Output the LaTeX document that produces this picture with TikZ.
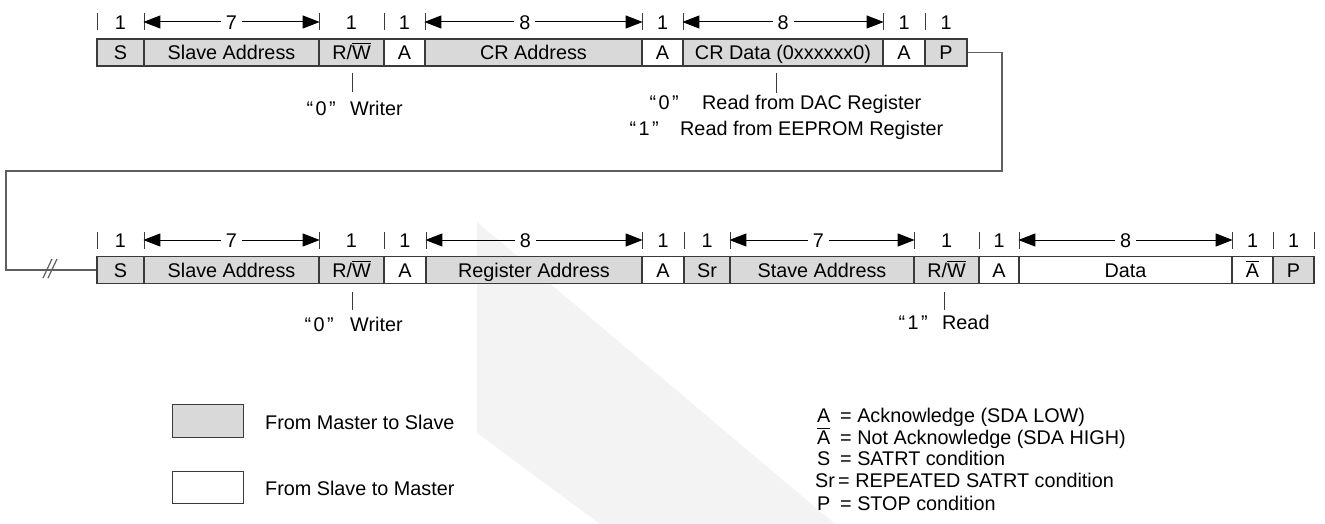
\documentclass[tikz,border=0pt]{standalone}
\usepackage{fontspec}
\setmainfont{Liberation Sans}
\usetikzlibrary{arrows.meta}
\definecolor{fillg}{HTML}{D9D9D9}
\definecolor{edgec}{HTML}{3A3A3A}
\definecolor{connc}{HTML}{5E5E5E}
\definecolor{wmc}{HTML}{F3F3F3}
\newcommand{\qq}[2]{\makebox[#2]{“\kern2.5pt#1\kern2.5pt”}}
\newcommand{\myovl}[1]{\leavevmode\setbox0=\hbox{#1}\rlap{\raisebox{\dimexpr\ht0+1.6pt\relax}{\rule{\wd0}{1pt}}}\box0}
\newcommand{\fld}[6]{\node[#5, minimum width={#3pt-#2pt}] (#1) at ({(#2+#3)/2},#4) {#6};}
\begin{document}
\begin{tikzpicture}[x=1pt,y=-1pt,
  every node/.style={font=\fontsize{19.8}{23}\selectfont},
  txt/.style={inner sep=0pt, text height=14.2pt, text depth=0pt},
  fldbox/.style={draw=edgec, line width=1.3pt, inner sep=0pt, minimum height=27pt, text height=14.2pt, text depth=0pt},
  gf/.style={fldbox, fill=fillg},
  wf/.style={fldbox, fill=white},
  tickln/.style={draw=edgec, line width=1pt},
  dimarr/.style={draw=black, line width=1pt, {Triangle[length=17pt,width=13pt]}-{Triangle[length=17pt,width=13pt]}},
  lab/.style={txt, fill=white, inner xsep=5pt},
  connln/.style={draw=connc, line width=1.6pt}]
\useasboundingbox (0,0) rectangle (1325,524);
% watermark
\fill[wmc] (477,222) -- (835,524) -- (600,524) -- (477,433) -- cycle;

\coordinate (h1) at (0,22);
\coordinate (h2) at (0,240);

% ---------- Row 1 ----------
\fld{s1}{97}{144}{52.5}{gf}{S}
\fld{sa1}{144}{319}{52.5}{gf}{Slave Address}
\fld{rw1}{319}{384}{52.5}{gf}{R/\myovl{W}}
\fld{a1}{384}{425}{52.5}{wf}{A}
\fld{cra}{425}{642}{52.5}{gf}{CR Address}
\fld{a2}{642}{683}{52.5}{wf}{A}
\fld{crd}{683}{883}{52.5}{gf}{CR Data (0xxxxxx0)}
\fld{a3}{883}{925}{52.5}{wf}{A}
\fld{p1}{925}{967}{52.5}{gf}{P}

\foreach \x in {97,144,319,384,425,642,683,883,925}
  \draw[tickln] (\x,13.5) -- (\x,30.5);
\foreach \n/\m in {s1/o1,rw1/o2,a1/o3,a2/o4,a3/o5,p1/o6}
  \node[txt] (\m) at (\n |- h1) {1};
\draw[dimarr] (sa1.north west |- h1) -- node[lab] (d7a) {7} (sa1.north east |- h1);
\draw[dimarr] (cra.north west |- h1) -- node[lab, pos=0.46] (d8a) {8} (cra.north east |- h1);
\draw[dimarr] (crd.north west |- h1) -- node[lab] (d8b) {8} (crd.north east |- h1);

\draw[tickln] (352,73) -- (352,92);
\node[txt, anchor=west] (w1) at (305,108) {\qq{0}{32pt}\hspace{13pt}Writer};
\draw[tickln] (776,73) -- (776,93);
\node[txt, anchor=west] (r1) at (650,102) {\qq{0}{28pt}\hspace{24pt}Read from DAC Register};
\node[txt, anchor=west] (r2) at (630,128) {\qq{1}{28pt}\hspace{22pt}Read from EEPROM Register};

% ---------- Row 2 ----------
\fld{s2}{97}{144}{270}{gf}{S}
\fld{sa2}{144}{319}{270}{gf}{Slave Address}
\fld{rw2}{319}{384}{270}{gf}{R/\myovl{W}}
\fld{a4}{384}{426}{270}{wf}{A}
\fld{ra}{426}{642}{270}{gf}{Register Address}
\fld{a5}{642}{684}{270}{wf}{A}
\fld{sr}{684}{730}{270}{gf}{Sr}
\fld{sta}{730}{914}{270}{gf}{Stave Address}
\fld{rw3}{914}{979}{270}{gf}{R/\myovl{W}}
\fld{a6}{979}{1019}{270}{wf}{A}
\fld{dat}{1019}{1232}{270}{wf}{Data}
\fld{na}{1232}{1273}{270}{wf}{\myovl{A}}
\fld{p2}{1273}{1314}{270}{gf}{P}

\foreach \x in {97,144,319,384,426,642,684,730,914,979,1019,1232,1273,1314}
  \draw[tickln] (\x,231.5) -- (\x,248.5);
\foreach \n/\m in {s2/q1,rw2/q2,a4/q3,a5/q4,sr/q5,rw3/q6,a6/q7,na/q8,p2/q9}
  \node[txt] (\m) at (\n |- h2) {1};
\draw[dimarr] (sa2.north west |- h2) -- node[lab] (e7a) {7} (sa2.north east |- h2);
\draw[dimarr] (ra.north west |- h2) -- node[lab, pos=0.46] (e8a) {8} (ra.north east |- h2);
\draw[dimarr] (sta.north west |- h2) -- node[lab, pos=0.48] (e7b) {7} (sta.north east |- h2);
\draw[dimarr] (dat.north west |- h2) -- node[lab] (e8b) {8} (dat.north east |- h2);

\draw[tickln] (352,291.5) -- (352,310);
\node[txt, anchor=west] (w2) at (303,324) {\qq{0}{32pt}\hspace{15pt}Writer};
\draw[tickln] (944,291.5) -- (944,310);
\node[txt, anchor=west] (rd) at (897,322) {\qq{1}{32pt}\hspace{13pt}Read};

% ---------- connector ----------
\coordinate (c1) at (1002,171);
\coordinate (c2) at (6,171);
\draw[connln] (p1.east) -| (c1) -- (c2) |- (s2.west);
\draw[connln, line width=1.2pt] (43,278) -- (52,259) (48,278) -- (57,259);

% ---------- legend ----------
\node[draw=edgec, line width=1pt, fill=fillg, minimum width=71pt, minimum height=33pt, inner sep=0pt] (lg1) at (207.5,420.5) {};
\node[draw=edgec, line width=1pt, fill=white, minimum width=71pt, minimum height=32pt, inner sep=0pt] (lg2) at (207.5,487) {};
\node[txt, anchor=west] (lt1) at (265,422) {From Master to Slave};
\node[txt, anchor=west] (lt2) at (265,488) {From Slave to Master};

\node[txt, anchor=west] (k1) at (817,415) {A};
\node[txt, anchor=west] (v1) at (840,415) {= Acknowledge (SDA LOW)};
\node[txt, anchor=west] (k2) at (817,437) {\myovl{A}};
\node[txt, anchor=west] (v2) at (840,437) {= Not Acknowledge (SDA HIGH)};
\node[txt, anchor=west] (k3) at (817,458) {S};
\node[txt, anchor=west] (v3) at (840,458) {= SATRT condition};
\node[txt, anchor=west] (k4) at (815,480) {Sr};
\node[txt, anchor=west] (v4) at (838,480) {= REPEATED SATRT condition};
\node[txt, anchor=west] (k5) at (817,503) {P};
\node[txt, anchor=west] (v5) at (840,503) {= STOP condition};
\end{tikzpicture}
\end{document}
